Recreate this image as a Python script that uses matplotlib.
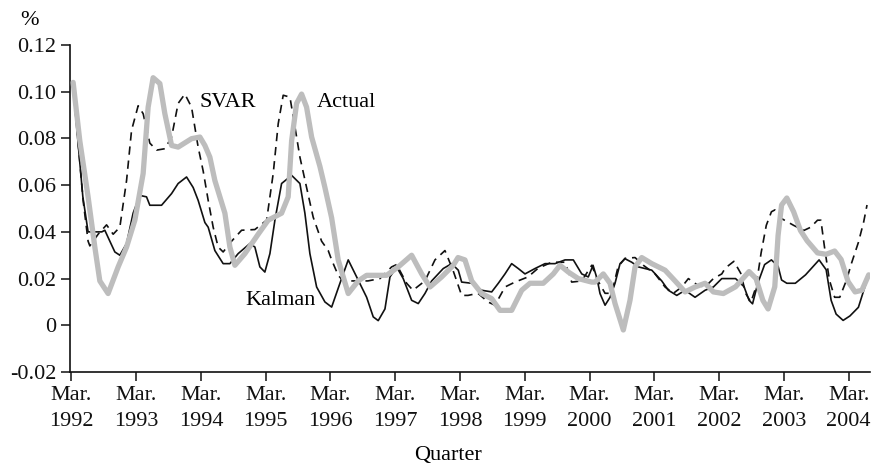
import matplotlib
matplotlib.use("Agg")
import matplotlib.pyplot as plt

# time in years after March 1992, value in %
actual_t = [0.028, 0.131, 0.259, 0.363, 0.440, 0.568, 0.723, 0.853, 0.981, 1.109, 1.186, 1.263, 1.367, 1.444,
            1.548, 1.649, 1.856, 1.985, 2.062, 2.139, 2.216, 2.371, 2.448, 2.525, 2.680, 2.885, 3.039, 3.246,
            3.348, 3.401, 3.478, 3.555, 3.632, 3.710, 3.838, 3.915, 4.019, 4.120, 4.275, 4.429, 4.559, 4.868,
            5.047, 5.254, 5.409, 5.537, 5.717, 5.897, 5.970, 6.077, 6.181, 6.335, 6.490, 6.618, 6.798, 6.953,
            7.081, 7.286, 7.441, 7.544, 7.673, 7.827, 8.034, 8.085, 8.213, 8.317, 8.394, 8.522, 8.625, 8.703,
            8.806, 8.961, 9.166, 9.321, 9.475, 9.629, 9.784, 9.912, 10.066, 10.255, 10.463, 10.571, 10.676,
            10.757, 10.860, 10.911, 10.965, 11.046, 11.151, 11.256, 11.359, 11.520, 11.653, 11.784, 11.884,
            11.992, 12.100, 12.205, 12.310]
actual_v = [0.104, 0.079, 0.055, 0.0335, 0.019, 0.0136, 0.025, 0.0335, 0.045, 0.065, 0.0934, 0.106, 0.1035,
            0.0906, 0.077, 0.0763, 0.0799, 0.0806, 0.077, 0.072, 0.062, 0.048, 0.0335, 0.0257, 0.0307, 0.039,
            0.045, 0.048, 0.055, 0.079, 0.095, 0.099, 0.0934, 0.0806, 0.068, 0.059, 0.046, 0.028, 0.0136,
            0.019, 0.0214, 0.0214, 0.025, 0.030, 0.022, 0.0164, 0.0207, 0.0257, 0.029, 0.028, 0.019, 0.0136,
            0.0114, 0.0064, 0.0064, 0.015, 0.018, 0.018, 0.022, 0.0257, 0.0228, 0.020, 0.0185, 0.0185, 0.022,
            0.018, 0.0093, -0.002, 0.0107, 0.025, 0.029, 0.0264, 0.0236, 0.019, 0.0143, 0.0164, 0.018, 0.0143,
            0.0136, 0.0165, 0.023, 0.020, 0.0107, 0.007, 0.0165, 0.0385, 0.0515, 0.0545, 0.0486, 0.0406,
            0.0362, 0.031, 0.0304, 0.0318, 0.0282, 0.0187, 0.0143, 0.015, 0.0216]

svar_t = [0.028, 0.182, 0.259, 0.286, 0.414, 0.544, 0.646, 0.749, 0.853, 0.930, 1.032, 1.109, 1.212, 1.316,
          1.444, 1.548, 1.649, 1.753, 1.856, 1.958, 2.036, 2.113, 2.190, 2.267, 2.344, 2.474, 2.629, 2.834,
          3.015, 3.117, 3.194, 3.271, 3.375, 3.452, 3.529, 3.632, 3.734, 3.864, 3.966, 4.019, 4.120, 4.198,
          4.378, 4.579, 4.764, 4.945, 5.022, 5.177, 5.274, 5.459, 5.614, 5.768, 5.892, 6.026, 6.124, 6.278,
          6.432, 6.541, 6.695, 6.849, 7.050, 7.205, 7.416, 7.622, 7.725, 7.880, 8.034, 8.131, 8.240, 8.343,
          8.440, 8.548, 8.703, 8.831, 9.012, 9.166, 9.294, 9.424, 9.526, 9.680, 9.784, 9.912, 10.042,
          10.096, 10.229, 10.334, 10.412, 10.491, 10.571, 10.649, 10.729, 10.808, 10.861, 10.965, 11.151,
          11.308, 11.415, 11.520, 11.572, 11.625, 11.703, 11.784, 11.863, 11.968, 12.046, 12.151, 12.232,
          12.284]
svar_v = [0.103, 0.0535, 0.036, 0.034, 0.039, 0.043, 0.039, 0.042, 0.062, 0.0835, 0.094, 0.0906, 0.078,
          0.075, 0.0756, 0.0806, 0.095, 0.099, 0.0934, 0.0763, 0.066, 0.0535, 0.042, 0.0335, 0.0314, 0.036,
          0.0407, 0.041, 0.045, 0.065, 0.0863, 0.0985, 0.0977, 0.085, 0.072, 0.059, 0.0463, 0.036, 0.032,
          0.028, 0.0214, 0.019, 0.019, 0.019, 0.020, 0.025, 0.026, 0.018, 0.015, 0.019, 0.028, 0.032, 0.0236,
          0.0128, 0.0128, 0.0137, 0.010, 0.0086, 0.0164, 0.0185, 0.0207, 0.0244, 0.027, 0.027, 0.0185, 0.019,
          0.0257, 0.019, 0.0137, 0.0137, 0.025, 0.0287, 0.029, 0.0257, 0.022, 0.0164, 0.0137, 0.0164, 0.020,
          0.017, 0.0164, 0.020, 0.022, 0.0245, 0.0274, 0.0223, 0.0136, 0.0099, 0.0165, 0.031, 0.0428, 0.0486,
          0.0494, 0.0457, 0.0428, 0.0406, 0.042, 0.045, 0.045, 0.034, 0.0194, 0.012, 0.012, 0.0194, 0.0267,
          0.0355, 0.0442, 0.0515]

kalman_t = [0.028, 0.178, 0.259, 0.471, 0.517, 0.595, 0.672, 0.749, 0.853, 0.954, 1.058, 1.161, 1.212, 1.393,
            1.548, 1.649, 1.779, 1.881, 1.958, 2.062, 2.113, 2.216, 2.344, 2.448, 2.576, 2.757, 2.834, 2.911,
            2.988, 3.066, 3.143, 3.246, 3.401, 3.529, 3.606, 3.683, 3.787, 3.915, 4.019, 4.147, 4.275, 4.405,
            4.559, 4.661, 4.738, 4.842, 4.919, 5.022, 5.124, 5.254, 5.356, 5.459, 5.563, 5.742, 5.872, 5.974,
            6.026, 6.181, 6.335, 6.490, 6.592, 6.695, 6.798, 6.900, 7.004, 7.158, 7.313, 7.467, 7.622, 7.750,
            7.880, 7.981, 8.054, 8.116, 8.162, 8.240, 8.317, 8.394, 8.471, 8.548, 8.652, 8.754, 8.961, 9.115,
            9.217, 9.347, 9.475, 9.629, 9.784, 9.912, 10.042, 10.255, 10.386, 10.463, 10.517, 10.598, 10.703,
            10.808, 10.911, 10.965, 11.046, 11.177, 11.335, 11.544, 11.653, 11.730, 11.807, 11.915, 12.020,
            12.151, 12.284]
kalman_v = [0.102, 0.055, 0.040, 0.040, 0.0407, 0.036, 0.0314, 0.030, 0.035, 0.048, 0.0556, 0.055, 0.0514,
            0.0514, 0.0564, 0.0607, 0.0635, 0.059, 0.0535, 0.044, 0.042, 0.032, 0.0264, 0.0264, 0.0307, 0.035,
            0.0335, 0.025, 0.0228, 0.0307, 0.045, 0.0607, 0.0642, 0.0607, 0.048, 0.0307, 0.0164, 0.010, 0.0078,
            0.018, 0.028, 0.0207, 0.012, 0.0036, 0.002, 0.007, 0.0207, 0.025, 0.020, 0.0107, 0.0093, 0.0136,
            0.019, 0.0243, 0.0264, 0.0236, 0.0185, 0.018, 0.015, 0.0143, 0.018, 0.022, 0.0264, 0.0243, 0.022,
            0.0243, 0.0264, 0.0264, 0.028, 0.028, 0.022, 0.0207, 0.0257, 0.020, 0.0136, 0.0086, 0.012, 0.018,
            0.0264, 0.0285, 0.027, 0.025, 0.0236, 0.019, 0.015, 0.0128, 0.015, 0.012, 0.015, 0.0164, 0.020,
            0.020, 0.0165, 0.0107, 0.0092, 0.018, 0.026, 0.028, 0.0253, 0.0194, 0.018, 0.018, 0.0216, 0.028,
            0.0238, 0.0107, 0.0048, 0.0021, 0.004, 0.0077, 0.0194]

years = list(range(1992, 2005))
y_ticks = [-0.02, 0, 0.02, 0.04, 0.06, 0.08, 0.10, 0.12]
y_labels = ["-0.02", "0", "0.02", "0.04", "0.06", "0.08", "0.10", "0.12"]


def main():
    plt.rcParams["font.family"] = ["Liberation Serif", "DejaVu Serif"]
    plt.rcParams["font.size"] = 16

    fig = plt.figure(figsize=(8.72, 4.68), dpi=100)
    ax = fig.add_axes([0.0803, 0.2051, 0.9174, 0.6987])

    ax.plot([1992 + t for t in actual_t], actual_v, color="#bdbdbd", lw=3.8, solid_joinstyle="round",
            solid_capstyle="round", zorder=3)
    ax.plot([1992 + t for t in svar_t], svar_v, color="#111111", lw=1.2, dashes=(5, 3.5), zorder=2)
    ax.plot([1992 + t for t in kalman_t], kalman_v, color="#111111", lw=1.2, zorder=2)

    ax.text(1993.985, 0.0955, "SVAR", ha="left", va="center")
    ax.text(1995.787, 0.0955, "Actual", ha="left", va="center")
    ax.text(1995.771, 0.0107, "Kalman", ha="right", va="center")

    ax.set_xlim(1991.98, 2004.33)
    ax.set_ylim(-0.02, 0.12)
    ax.set_xticks(years)
    ax.set_xticklabels([f"Mar.\n{y}" for y in years], linespacing=1.5)
    ax.set_yticks(y_ticks)
    ax.set_yticklabels(y_labels)

    for s in ["top", "right"]:
        ax.spines[s].set_visible(False)
    for s in ["left", "bottom"]:
        ax.spines[s].set_linewidth(1.2)
        ax.spines[s].set_color("#111111")
    ax.tick_params(direction="out", length=6.5, width=1.1, colors="#111111", labelsize=16, pad=3.5)

    ax.set_xlabel("Quarter")
    ax.xaxis.set_label_coords(0.4725, -0.226)
    fig.text(0.0344, 0.957, "%", ha="center", va="center")

    fig.savefig("out.png", dpi=100)


if __name__ == "__main__":
    main()
